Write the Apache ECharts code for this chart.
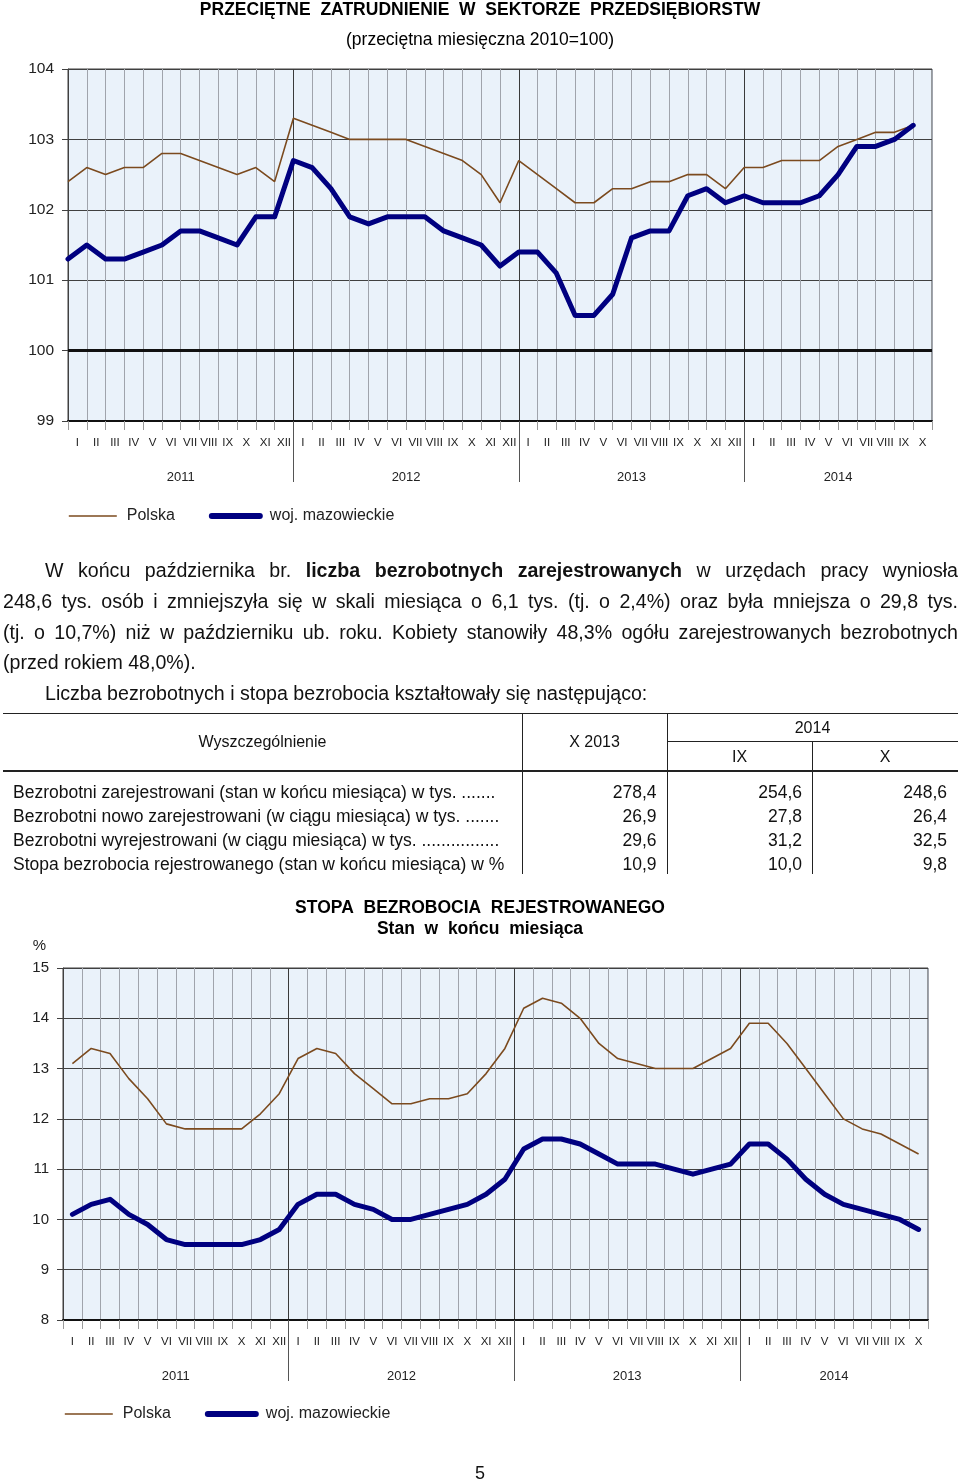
<!DOCTYPE html>
<html lang="pl">
<head>
<meta charset="utf-8">
<title>Zatrudnienie i bezrobocie</title>
<script src="https://cdn.jsdelivr.net/npm/echarts@6/dist/echarts.min.js"></script>
<style>
  html, body { margin: 0; padding: 0; background: #fff; }
  body { width: 960px; height: 1482px; position: relative; overflow: hidden;
         font-family: 'Liberation Sans', Arial, sans-serif; color: #111; }
  .abs { position: absolute; }
  .pline { position: absolute; height: 31px; line-height: 31px; font-size: 19.6px; white-space: nowrap; }
  .just { text-align: justify; text-align-last: justify; white-space: normal; overflow: hidden; }
  .hl { position: absolute; background: #222; }
  .vl { position: absolute; background: #222; width: 1px; }
  .cell { position: absolute; font-size: 17.5px; line-height: 24px; white-space: nowrap; }
  .hdr { position: absolute; font-size: 16px; line-height: 20px; white-space: nowrap; text-align: center; }
</style>
</head>
<body>
<div id="c1" class="abs" style="left:0;top:0;width:960px;height:540px;"></div>
<div id="txt" class="abs" style="left:0;top:0;width:960px;height:1482px;pointer-events:none;"></div>
<div id="c2" class="abs" style="left:0;top:885px;width:960px;height:560px;"></div>
<div class="abs" style="left:0;top:1461px;width:960px;text-align:center;font-size:18px;line-height:24px;">5</div>
<script>
// ---------- DATA ----------
const monthNames = ['I','II','III','IV','V','VI','VII','VIII','IX','X','XI','XII'];
const years = ['2011','2012','2013','2014'];
const monthsPerYear = [12, 12, 12, 10];
const seriesNames = ['Polska', 'woj. mazowieckie'];

// Przeciętne zatrudnienie (2010=100)
const empPolska = [102.4,102.6,102.5,102.6,102.6,102.8,102.8,102.7,102.6,102.5,102.6,102.4,
                   103.3,103.2,103.1,103.0,103.0,103.0,103.0,102.9,102.8,102.7,102.5,102.1,
                   102.7,102.5,102.3,102.1,102.1,102.3,102.3,102.4,102.4,102.5,102.5,102.3,
                   102.6,102.6,102.7,102.7,102.7,102.9,103.0,103.1,103.1,103.2];
const empMaz    = [101.3,101.5,101.3,101.3,101.4,101.5,101.7,101.7,101.6,101.5,101.9,101.9,
                   102.7,102.6,102.3,101.9,101.8,101.9,101.9,101.9,101.7,101.6,101.5,101.2,
                   101.4,101.4,101.1,100.5,100.5,100.8,101.6,101.7,101.7,102.2,102.3,102.1,
                   102.2,102.1,102.1,102.1,102.2,102.5,102.9,102.9,103.0,103.2];

// Stopa bezrobocia rejestrowanego (%)
const ratePolska = [13.1,13.4,13.3,12.8,12.4,11.9,11.8,11.8,11.8,11.8,12.1,12.5,
                    13.2,13.4,13.3,12.9,12.6,12.3,12.3,12.4,12.4,12.5,12.9,13.4,
                    14.2,14.4,14.3,14.0,13.5,13.2,13.1,13.0,13.0,13.0,13.2,13.4,
                    13.9,13.9,13.5,13.0,12.5,12.0,11.8,11.7,11.5,11.3];
const rateMaz    = [10.1,10.3,10.4,10.1,9.9,9.6,9.5,9.5,9.5,9.5,9.6,9.8,
                    10.3,10.5,10.5,10.3,10.2,10.0,10.0,10.1,10.2,10.3,10.5,10.8,
                    11.4,11.6,11.6,11.5,11.3,11.1,11.1,11.1,11.0,10.9,11.0,11.1,
                    11.5,11.5,11.2,10.8,10.5,10.3,10.2,10.1,10.0,9.8];

// Table
const tableRowLabels = [
  'Bezrobotni zarejestrowani (stan w końcu miesiąca) w tys.  .......',
  'Bezrobotni nowo zarejestrowani (w ciągu miesiąca) w tys. .......',
  'Bezrobotni wyrejestrowani (w ciągu miesiąca) w tys. ................',
  'Stopa bezrobocia rejestrowanego (stan w końcu miesiąca) w %'
];
const tableX2013  = [278.4, 26.9, 29.6, 10.9];
const tableIX2014 = [254.6, 27.8, 31.2, 10.0];
const tableX2014  = [248.6, 26.4, 32.5, 9.8];

// ---------- DERIVED ----------
const monthLabels = [];
monthsPerYear.forEach(n => { for (let m = 0; m < n; m++) monthLabels.push(monthNames[m]); });
const nMonths = monthLabels.length;
const yearTicks = [], yearCenters = [];
{ let s = 0; monthsPerYear.forEach((n, i) => { yearCenters.push(s + n / 2); s += n; if (i < monthsPerYear.length - 1) yearTicks.push(s); }); }

const FONT = "'Liberation Sans', Arial, sans-serif";
const BROWN = '#7B4A1E';
const NAVY = '#000080';
const BG = '#EAF2FA';
const splitColors = ['#3a3a3a'].concat(Array(11).fill('#a0a4ac'));
// transparent 1px image: keeps the line-only legend icon (no marker)
const NO_MARK = 'image://data:image/gif;base64,R0lGODlhAQABAIAAAAAAAP///yH5BAEAAAAALAAAAAABAAEAAAIBRAA7';

function yearAxis(extra) {
  return Object.assign({
    type: 'value', position: 'bottom', min: 0, max: nMonths,
    axisLine: { show: false },
    axisTick: { show: true, customValues: yearTicks, length: 61, lineStyle: { color: '#555', width: 1 } },
    axisLabel: { customValues: yearCenters, margin: 50, fontSize: 13, color: '#222', fontFamily: FONT,
                 formatter: v => years[yearCenters.indexOf(v)] || '' },
    splitLine: { show: false }
  }, extra || {});
}
function monthAxis() {
  return {
    type: 'category', position: 'bottom', data: monthLabels, boundaryGap: true,
    axisLine: { show: true, lineStyle: { color: '#111', width: 2 } },
    axisTick: { show: true, interval: 0, length: 9, lineStyle: { color: '#9a9a9a' } },
    axisLabel: { interval: 0, fontSize: 11.5, color: '#222', margin: 16, fontFamily: FONT },
    splitLine: { show: true, interval: 0, lineStyle: { color: splitColors, width: 1 } }
  };
}
function legendAt(left, top) {
  return {
    left: left, top: top, padding: 0, itemWidth: 48, itemHeight: 14, itemGap: 34,
    data: [
      { name: seriesNames[0], lineStyle: { width: 1.6, cap: 'butt' } },
      { name: seriesNames[1], lineStyle: { width: 6, cap: 'round' } }
    ],
    textStyle: { fontSize: 16, color: '#222', fontFamily: FONT, padding: [0, 0, 0, 5] }
  };
}

// ---------- CHART 1 ----------
const c1 = echarts.init(document.getElementById('c1'), null, { renderer: 'canvas' });
c1.setOption({
  animation: false,
  textStyle: { fontFamily: FONT },
  title: [
    { text: 'PRZECIĘTNE  ZATRUDNIENIE  W  SEKTORZE  PRZEDSIĘBIORSTW', left: 'center', top: 1, padding: 0,
      textStyle: { fontSize: 17.5, fontWeight: 'bold', color: '#000', fontFamily: FONT } },
    { text: '(przeciętna miesięczna 2010=100)', left: 'center', top: 31, padding: 0,
      textStyle: { fontSize: 17.5, fontWeight: 'normal', color: '#000', fontFamily: FONT } }
  ],
  legend: legendAt(68, 508),
  grid: { left: 68, top: 69, width: 864, height: 352, show: true, backgroundColor: BG,
          borderColor: '#404040', borderWidth: 1, outerBoundsMode: 'none' },
  xAxis: [ monthAxis(), yearAxis() ],
  yAxis: {
    type: 'value', min: 99, max: 104, interval: 1,
    axisLine: { show: true, lineStyle: { color: '#404040' } },
    axisTick: { show: true, length: 6, lineStyle: { color: '#404040' } },
    axisLabel: { fontSize: 15.5, color: '#222', margin: 14, fontFamily: FONT },
    splitLine: { show: true, lineStyle: { color: '#404040', width: 1 } }
  },
  series: [
    { name: seriesNames[0], type: 'line', xAxisIndex: 1, symbol: NO_MARK, showSymbol: false,
      data: empPolska.map((v, i) => [i, v]),
      lineStyle: { color: BROWN, width: 1.6 }, itemStyle: { color: BROWN }, z: 3,
      markLine: { silent: true, symbol: 'none', label: { show: false },
                  lineStyle: { color: '#111', width: 3, type: 'solid' }, data: [{ yAxis: 100 }] } },
    { name: seriesNames[1], type: 'line', xAxisIndex: 1, symbol: NO_MARK, showSymbol: false,
      data: empMaz.map((v, i) => [i, v]),
      lineStyle: { color: NAVY, width: 5, cap: 'round', join: 'round' }, itemStyle: { color: NAVY }, z: 4 }
  ]
});

// ---------- CHART 2 ----------
const c2 = echarts.init(document.getElementById('c2'), null, { renderer: 'canvas' });
c2.setOption({
  animation: false,
  textStyle: { fontFamily: FONT },
  title: [
    { text: 'STOPA  BEZROBOCIA  REJESTROWANEGO', left: 'center', top: 14, padding: 0,
      textStyle: { fontSize: 17.5, fontWeight: 'bold', color: '#000', fontFamily: FONT } },
    { text: 'Stan  w  końcu  miesiąca', left: 'center', top: 35, padding: 0,
      textStyle: { fontSize: 17.5, fontWeight: 'bold', color: '#000', fontFamily: FONT } }
  ],
  legend: legendAt(64, 521),
  grid: { left: 63, top: 83, width: 865, height: 352, show: true, backgroundColor: BG,
          borderColor: '#404040', borderWidth: 1, outerBoundsMode: 'none' },
  xAxis: [ monthAxis(), yearAxis() ],
  yAxis: {
    type: 'value', min: 8, max: 15, interval: 1,
    name: '%', nameLocation: 'end', nameGap: 15,
    nameTextStyle: { fontSize: 15, color: '#222', align: 'right', padding: [0, 17, 0, 0], fontFamily: FONT },
    axisLine: { show: true, lineStyle: { color: '#404040' } },
    axisTick: { show: true, length: 6, lineStyle: { color: '#404040' } },
    axisLabel: { fontSize: 15, color: '#222', margin: 14, fontFamily: FONT },
    splitLine: { show: true, lineStyle: { color: '#404040', width: 1 } }
  },
  series: [
    { name: seriesNames[0], type: 'line', xAxisIndex: 0, symbol: NO_MARK, showSymbol: false, data: ratePolska,
      lineStyle: { color: BROWN, width: 1.6 }, itemStyle: { color: BROWN }, z: 3 },
    { name: seriesNames[1], type: 'line', xAxisIndex: 0, symbol: NO_MARK, showSymbol: false, data: rateMaz,
      lineStyle: { color: NAVY, width: 5, cap: 'round', join: 'round' }, itemStyle: { color: NAVY }, z: 4 }
  ]
});

// ---------- TEXT & TABLE ----------
const txt = document.getElementById('txt');
function add(html, cls, style) {
  const d = document.createElement('div');
  d.className = cls; d.setAttribute('style', style); d.innerHTML = html; txt.appendChild(d); return d;
}
const paraLines = [
  { html: 'W końcu października br. <b>liczba bezrobotnych zarejestrowanych</b> w urzędach pracy wyniosła', left: 45, just: true },
  { html: '248,6 tys. osób i zmniejszyła się w skali miesiąca o 6,1 tys. (tj. o 2,4%) oraz była mniejsza o 29,8 tys.', left: 3, just: true },
  { html: '(tj. o 10,7%) niż w październiku ub. roku. Kobiety stanowiły 48,3% ogółu zarejestrowanych bezrobotnych', left: 3, just: true },
  { html: '(przed rokiem 48,0%).', left: 3, just: false },
  { html: 'Liczba bezrobotnych i stopa bezrobocia kształtowały się następująco:', left: 45, just: false }
];
const paraCenters = [570.7, 601.5, 632, 662.5, 693.5];
paraLines.forEach((l, i) => {
  add(l.html, 'pline' + (l.just ? ' just' : ''),
      `left:${l.left}px;top:${paraCenters[i] - 15.5}px;width:${958 - l.left}px;`);
});

// table lines
add('', 'hl', 'left:3px;top:712.5px;width:955px;height:1px;');
add('', 'hl', 'left:667px;top:741px;width:291px;height:1px;');
add('', 'hl', 'left:3px;top:770px;width:955px;height:2px;');
add('', 'vl', 'left:522px;top:713px;height:161px;');
add('', 'vl', 'left:667px;top:713px;height:161px;');
add('', 'vl', 'left:812px;top:742px;height:132px;');
// header
add('Wyszczególnienie', 'hdr', 'left:3px;top:732px;width:519px;');
add('X 2013', 'hdr', 'left:522px;top:732px;width:145px;');
add('2014', 'hdr', 'left:667px;top:717.5px;width:291px;');
add('IX', 'hdr', 'left:667px;top:746.5px;width:145px;');
add('X', 'hdr', 'left:812px;top:746.5px;width:146px;');
// rows
const fmt = v => v.toFixed(1).replace('.', ',');
const rowCenters = [791.5, 815.8, 840, 864.3];
tableRowLabels.forEach((lab, i) => {
  const top = rowCenters[i] - 12;
  add(lab, 'cell', `left:13px;top:${top}px;`);
  add(fmt(tableX2013[i]), 'cell', `left:522px;top:${top}px;width:134.5px;text-align:right;`);
  add(fmt(tableIX2014[i]), 'cell', `left:667px;top:${top}px;width:135px;text-align:right;`);
  add(fmt(tableX2014[i]), 'cell', `left:812px;top:${top}px;width:135px;text-align:right;`);
});
</script>
</body>
</html>
